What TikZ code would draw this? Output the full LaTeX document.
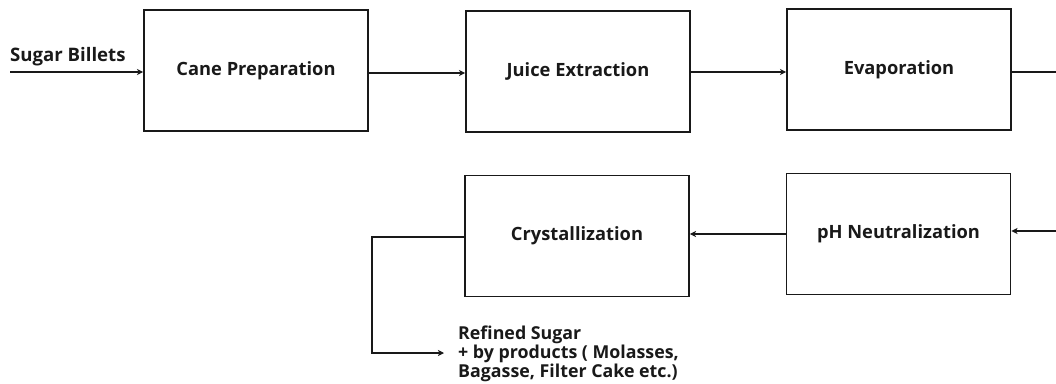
\documentclass[tikz,border=0pt]{standalone}
\usepackage{fontspec}
\setmainfont{Open Sans}
\usetikzlibrary{arrows.meta}
\begin{document}
\begin{tikzpicture}[x=1pt,y=-1pt,
  stepbox/.style={draw=black!90, line width=1.9pt, minimum width=224pt, minimum height=121pt, inner sep=0pt,
    font=\bfseries\fontsize{18.3}{20}\selectfont, text=black!90},
  flow/.style={draw=black!90, line width=1.9pt},
  tip/.style={-{Stealth[length=6pt,width=6pt,inset=1.5pt]}},
  lbl/.style={font=\bfseries\fontsize{18.6}{16.5}\selectfont, text=black!90, inner sep=0pt}]
\useasboundingbox (0,0) rectangle (1056,383);
\node[stepbox] (cane) at (256,70.5) {Cane Preparation};
\node[stepbox] (juice) at (578,71.5) {Juice Extraction};
\node[stepbox] (evap) at (899,69.5) {Evaporation};
\node[stepbox] (ph) at (898.5,234) {pH Neutralization};
\node[stepbox] (crys) at (577,236) {Crystallization};
\node[lbl, anchor=west] (billets) at (10,57) {Sugar Billets};
\node[lbl, anchor=north west, align=left, font=\bfseries\fontsize{17.8}{16.5}\selectfont] (prod) at (458,326)
  {Refined Sugar\\+ by products ( Molasses,\\Bagasse, Filter Cake etc.)};
\coordinate (in) at (10,72);
\coordinate (outR) at (1056,72);
\coordinate (inR) at (1056,231);
\coordinate (c1) at (372,237);
\coordinate (c2) at (372,353);
\coordinate (c3) at (444,353);
\draw[flow,tip] (in) -- (cane.west |- in);
\draw[flow,tip] (cane.east |- 0,73) -- (juice.west |- 0,73);
\draw[flow,tip] (juice.east |- 0,72) -- (evap.west |- 0,72);
\draw[flow] (evap.east |- outR) -- (outR);
\draw[flow,tip] (inR) -- (ph.east |- inR);
\draw[flow,tip] (ph.west |- 0,234) -- (crys.east |- 0,234);
\draw[flow,tip] (crys.west |- c1) -- (c1) -- (c2) -- (c3);
\end{tikzpicture}
\end{document}
